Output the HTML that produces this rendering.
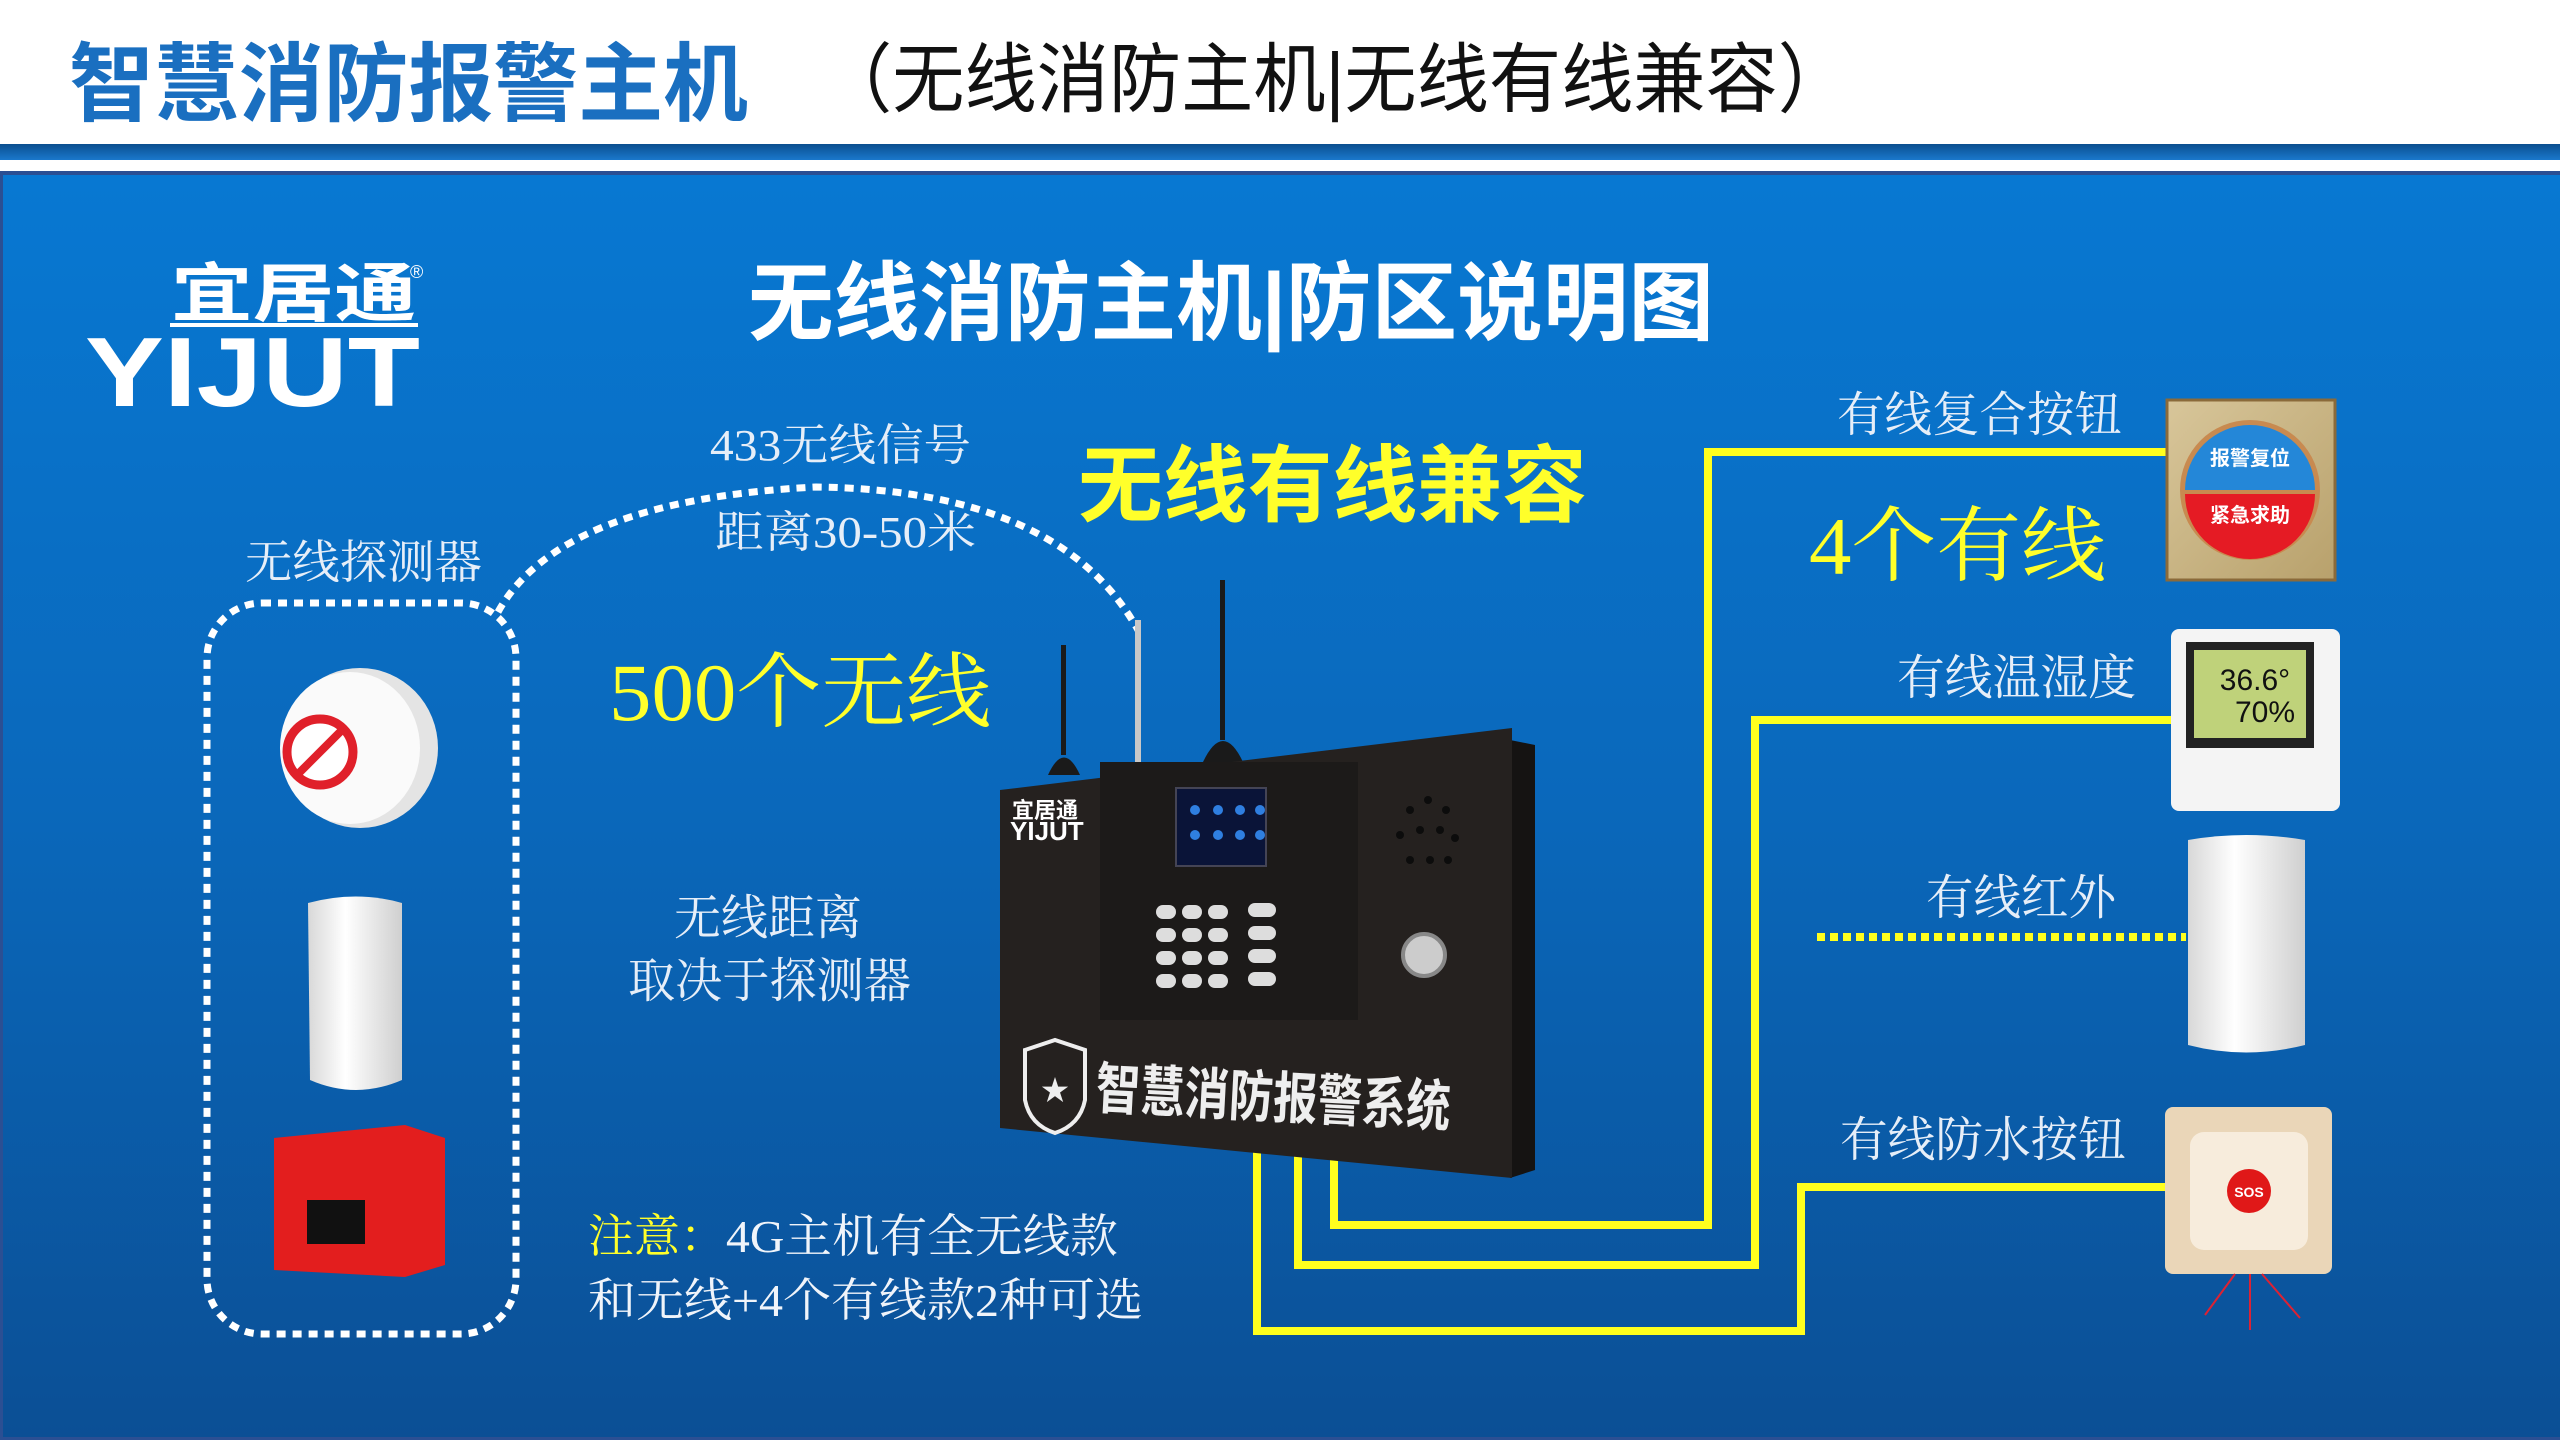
<!DOCTYPE html>
<html><head><meta charset="utf-8"><style>
html,body{margin:0;padding:0;width:2560px;height:1440px;overflow:hidden;background:#fff}
svg{display:block}
text{font-family:"Liberation Sans","Noto Sans CJK SC",sans-serif}
.s{font-family:"Liberation Serif","Noto Serif CJK SC",serif}
</style></head><body>
<svg width="2560" height="1440" viewBox="0 0 2560 1440" xmlns="http://www.w3.org/2000/svg">
<defs>
<linearGradient id="bg" x1="0" y1="0" x2="0" y2="1">
<stop offset="0" stop-color="#0878d2"/><stop offset="0.5" stop-color="#0a68bb"/><stop offset="1" stop-color="#0b4f95"/></linearGradient>
<linearGradient id="bar" x1="0" y1="0" x2="0" y2="1">
<stop offset="0" stop-color="#0a4f8f"/><stop offset="1" stop-color="#1a78cc"/></linearGradient>
<linearGradient id="gold" x1="0" y1="0" x2="1" y2="1">
<stop offset="0" stop-color="#d8c69a"/><stop offset="1" stop-color="#b8a16c"/></linearGradient>
<linearGradient id="wh" x1="0" y1="0" x2="1" y2="0">
<stop offset="0" stop-color="#d8d8d8"/><stop offset="0.4" stop-color="#fff"/><stop offset="1" stop-color="#cfcfcf"/></linearGradient>
</defs>
<rect x="0" y="0" width="2560" height="1440" fill="#fff"/>
<!-- header -->
<text x="69" y="114" font-size="86" font-weight="bold" fill="#1a6fc0" textLength="679" lengthAdjust="spacingAndGlyphs">智慧消防报警主机</text>
<text x="820" y="106" font-size="76" fill="#111" textLength="1030" lengthAdjust="spacingAndGlyphs">（无线消防主机|无线有线兼容）</text>
<rect x="0" y="144" width="2560" height="16" fill="url(#bar)"/>
<rect x="0" y="171" width="2560" height="1269" fill="#2b4f93"/>
<rect x="3" y="175" width="2557" height="1262" fill="url(#bg)"/>
<!-- logo -->
<text x="171" y="316" font-size="64" font-weight="bold" fill="#fff" textLength="245" lengthAdjust="spacingAndGlyphs">宜居通</text>
<text x="410" y="278" font-size="18" fill="#fff">®</text>
<rect x="170" y="323" width="248" height="4" fill="#fff"/>
<text x="85" y="406" font-size="98" font-weight="bold" fill="#fff" textLength="335" lengthAdjust="spacingAndGlyphs">YIJUT</text>
<!-- title -->
<text x="748" y="333" font-size="86" font-weight="bold" fill="#fff" textLength="966" lengthAdjust="spacingAndGlyphs">无线消防主机|防区说明图</text>
<!-- labels -->
<text class="s" x="710" y="460" font-size="44" fill="#e6eef8" textLength="261" lengthAdjust="spacingAndGlyphs">433无线信号</text>
<text class="s" x="715" y="547" font-size="44" fill="#e6eef8" textLength="261" lengthAdjust="spacingAndGlyphs">距离30-50米</text>
<text x="1078" y="515" font-size="84" font-weight="bold" fill="#ffff2a" textLength="509" lengthAdjust="spacingAndGlyphs">无线有线兼容</text>
<text class="s" x="245" y="578" font-size="46" fill="#e6eef8" textLength="237" lengthAdjust="spacingAndGlyphs">无线探测器</text>
<text class="s" x="609" y="720" font-size="82" fill="#ffff2a" textLength="382" lengthAdjust="spacingAndGlyphs">500个无线</text>
<text class="s" x="674" y="934" font-size="48" fill="#e6eef8" textLength="188" lengthAdjust="spacingAndGlyphs">无线距离</text>
<text class="s" x="628" y="997" font-size="48" fill="#e6eef8" textLength="283" lengthAdjust="spacingAndGlyphs">取决于探测器</text>
<text class="s" x="588" y="1252" font-size="46" fill="#ffff2a">注意：</text>
<text class="s" x="726" y="1252" font-size="46" fill="#f0f4fa" textLength="392" lengthAdjust="spacingAndGlyphs">4G主机有全无线款</text>
<text class="s" x="588" y="1316" font-size="46" fill="#f0f4fa" textLength="555" lengthAdjust="spacingAndGlyphs">和无线+4个有线款2种可选</text>
<text class="s" x="1837" y="431" font-size="48" fill="#e6eef8" textLength="285" lengthAdjust="spacingAndGlyphs">有线复合按钮</text>
<text class="s" x="1809" y="574" font-size="82" fill="#ffff2a" textLength="297" lengthAdjust="spacingAndGlyphs">4个有线</text>
<text class="s" x="1897" y="694" font-size="48" fill="#e6eef8" textLength="239" lengthAdjust="spacingAndGlyphs">有线温湿度</text>
<text class="s" x="1926" y="914" font-size="48" fill="#e6eef8" textLength="190" lengthAdjust="spacingAndGlyphs">有线红外</text>
<text class="s" x="1840" y="1156" font-size="48" fill="#e6eef8" textLength="286" lengthAdjust="spacingAndGlyphs">有线防水按钮</text>
<!-- dotted box & arc -->
<rect x="207" y="603" width="309" height="731" rx="55" fill="none" stroke="#fff" stroke-width="7" stroke-dasharray="9 7"/>
<path d="M498 612 Q 560 500 816 487 Q 1060 490 1138 630" fill="none" stroke="#fff" stroke-width="7" stroke-dasharray="9 7"/>
<!-- yellow wires -->
<g fill="none" stroke="#ffff1e" stroke-width="8">
<path d="M1334 1150 V1225 H1708 V452 H2168"/>
<path d="M1298 1150 V1265 H1755 V720 H2172"/>
<path d="M1257 1150 V1331 H1801 V1187 H2168"/>
<path d="M1817 937 H2186" stroke-dasharray="8 5"/>
</g>
<!-- antennas -->
<g fill="#1a1a1a">
<rect x="1061" y="645" width="5" height="110"/><path d="M1048 775 Q1064 740 1080 775Z"/>
<rect x="1135" y="620" width="6" height="150" fill="#c8c8c8"/>
<rect x="1220" y="580" width="5" height="160"/><path d="M1203 762 Q1223 720 1243 762Z"/>
</g>
<!-- host box -->
<path d="M1510 740 L1535 745 L1535 1170 L1510 1178Z" fill="#151312"/>
<path d="M1000 790 L1512 728 L1512 1178 L1000 1128 Z" fill="#25211f"/>
<rect x="1100" y="762" width="258" height="258" fill="#1c1a19"/>
<rect x="1176" y="788" width="90" height="78" fill="#0a1438" stroke="#445" stroke-width="2"/>
<g fill="#2f7fe0"><circle cx="1195" cy="810" r="5"/><circle cx="1218" cy="810" r="5"/><circle cx="1240" cy="810" r="5"/><circle cx="1260" cy="810" r="5"/><circle cx="1195" cy="835" r="5"/><circle cx="1218" cy="835" r="5"/><circle cx="1240" cy="835" r="5"/><circle cx="1260" cy="835" r="5"/></g>
<g fill="#ddd">
<rect x="1156" y="905" width="20" height="14" rx="7"/><rect x="1182" y="905" width="20" height="14" rx="7"/><rect x="1208" y="905" width="20" height="14" rx="7"/><rect x="1248" y="903" width="28" height="14" rx="7"/>
<rect x="1156" y="928" width="20" height="14" rx="7"/><rect x="1182" y="928" width="20" height="14" rx="7"/><rect x="1208" y="928" width="20" height="14" rx="7"/><rect x="1248" y="926" width="28" height="14" rx="7"/>
<rect x="1156" y="951" width="20" height="14" rx="7"/><rect x="1182" y="951" width="20" height="14" rx="7"/><rect x="1208" y="951" width="20" height="14" rx="7"/><rect x="1248" y="949" width="28" height="14" rx="7"/>
<rect x="1156" y="974" width="20" height="14" rx="7"/><rect x="1182" y="974" width="20" height="14" rx="7"/><rect x="1208" y="974" width="20" height="14" rx="7"/><rect x="1248" y="972" width="28" height="14" rx="7"/>
</g>
<circle cx="1424" cy="955" r="21" fill="#ccc" stroke="#888" stroke-width="4"/>
<g fill="#0c0c0c"><circle cx="1410" cy="810" r="4"/><circle cx="1428" cy="800" r="4"/><circle cx="1446" cy="810" r="4"/><circle cx="1400" cy="835" r="4"/><circle cx="1420" cy="830" r="4"/><circle cx="1440" cy="830" r="4"/><circle cx="1455" cy="838" r="4"/><circle cx="1410" cy="860" r="4"/><circle cx="1430" cy="860" r="4"/><circle cx="1448" cy="860" r="4"/></g>
<text x="1012" y="818" font-size="22" font-weight="bold" fill="#fff">宜居通</text>
<text x="1010" y="840" font-size="26" font-weight="bold" fill="#fff">YIJUT</text>
<path d="M1025 1050 L1055 1040 L1085 1050 L1085 1100 Q1080 1125 1055 1133 Q1030 1125 1025 1100Z" fill="none" stroke="#eee" stroke-width="4"/>
<text x="1055" y="1100" font-size="28" fill="#eee" text-anchor="middle">★</text>
<text x="1095" y="1108" font-size="56" font-weight="bold" fill="#eee" textLength="355" lengthAdjust="spacingAndGlyphs" transform="rotate(3 1095 1108)">智慧消防报警系统</text>
<!-- left devices -->
<ellipse cx="360" cy="748" rx="78" ry="80" fill="#e4e4e4"/>
<ellipse cx="350" cy="748" rx="70" ry="76" fill="#fafafa"/>
<circle cx="320" cy="752" r="33" fill="#fff" stroke="#e0202a" stroke-width="9"/>
<line x1="297" y1="775" x2="343" y2="729" stroke="#e0202a" stroke-width="8"/>
<path d="M308 903 Q356 890 402 903 L402 1080 Q356 1100 310 1080Z" fill="url(#wh)"/>
<path d="M274 1138 L405 1125 L445 1138 L445 1265 L405 1277 L274 1270Z" fill="#e31e1e"/>
<rect x="307" y="1200" width="58" height="44" fill="#111"/>
<!-- right devices -->
<rect x="2167" y="400" width="168" height="180" fill="url(#gold)" stroke="#8a6a3a" stroke-width="3"/>
<circle cx="2250" cy="490" r="70" fill="#c88a50"/>
<path d="M2185 490 A65 65 0 0 1 2315 490Z" fill="#2487d8"/>
<path d="M2185 494 A65 65 0 0 0 2315 494Z" fill="#e51b24"/>
<text x="2250" y="465" font-size="20" font-weight="bold" fill="#fff" text-anchor="middle">报警复位</text>
<text x="2250" y="522" font-size="20" font-weight="bold" fill="#fff" text-anchor="middle">紧急求助</text>
<rect x="2171" y="629" width="169" height="182" rx="8" fill="#f4f4f4"/>
<rect x="2186" y="642" width="128" height="106" fill="#222"/>
<rect x="2194" y="650" width="112" height="88" fill="#bfd27a"/>
<text x="2255" y="690" font-size="30" fill="#111" text-anchor="middle">36.6°</text>
<text x="2265" y="722" font-size="30" fill="#111" text-anchor="middle">70%</text>
<path d="M2188 840 Q2246 830 2305 840 L2305 1045 Q2246 1060 2188 1045Z" fill="url(#wh)"/>
<rect x="2165" y="1107" width="167" height="167" rx="8" fill="#ead6b8"/>
<rect x="2190" y="1132" width="118" height="118" rx="14" fill="#f7ecdc"/>
<circle cx="2249" cy="1191" r="22" fill="#e01818"/>
<text x="2249" y="1197" font-size="14" font-weight="bold" fill="#fff" text-anchor="middle">SOS</text>
<path d="M2235 1274 L2205 1315 M2250 1274 L2250 1330 M2262 1274 L2300 1318" stroke="#d23" stroke-width="2" fill="none"/>
</svg>
</body></html>
